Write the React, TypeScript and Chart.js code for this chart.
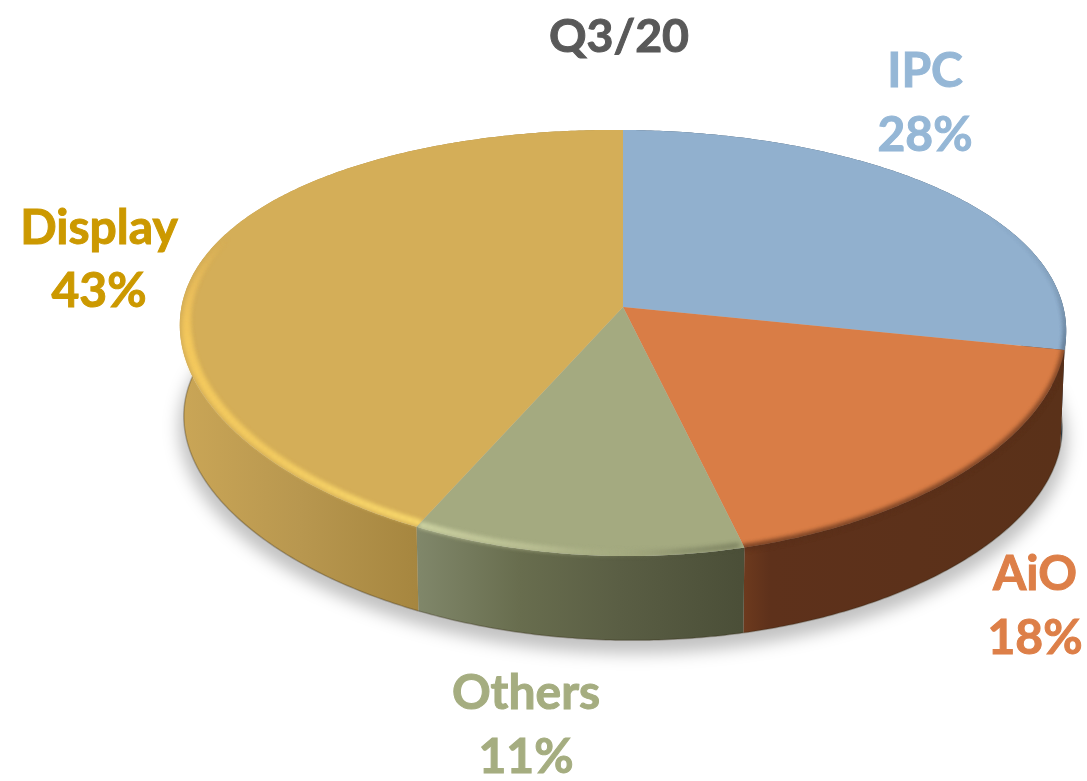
import React, { useEffect, useRef } from "react";
import { Chart, registerables } from "chart.js";

Chart.register(...registerables);

const title = "Q3/20";
const categories = ["IPC", "AiO", "Others", "Display"];
const shares = [28, 18, 11, 43];
const percentLabels = ["28%", "18%", "11%", "43%"];

const topColors = ["#91b0ce", "#d97d46", "#a4aa80", "#d4ae58"];
const textColors = ["#95b7d6", "#dd7f48", "#a5ad80", "#cc9900"];
const wallStops: [number, string][][] = [
  [[1040, "#3d5266"], [1066, "#2c3d4e"]],
  [[740, "#6f3b1e"], [770, "#5e311b"], [1060, "#5a3119"]],
  [[418, "#80876a"], [520, "#686d4e"], [620, "#5a5e44"], [740, "#4b4f38"]],
  [[186, "#c9a556"], [300, "#b8974f"], [418, "#a6863f"]],
];
// rim shading keys: angle (deg, canvas), r, g, b, alpha, width
const rimKeys: number[][][] = [
  [[-30, 50, 70, 90, 0, 2], [-5, 50, 70, 90, 0.3, 2.5], [11, 45, 65, 85, 0.8, 3]],
  [[10, 90, 48, 26, 0.8, 5], [76, 90, 48, 26, 0.8, 6]],
  [[76, 80, 85, 60, 0.45, 5], [82, 90, 95, 70, 0.35, 5], [90, 170, 175, 130, 0.2, 6], [100, 200, 205, 160, 0.6, 6], [115, 215, 220, 170, 0.9, 6]],
  [[115, 255, 224, 112, 0.95, 6], [140, 255, 214, 100, 0.8, 7], [170, 255, 210, 95, 0.9, 9], [185, 255, 205, 95, 0.6, 6], [200, 255, 205, 95, 0, 4]],
];
const rimRadius = [0.998, 1, 0.99, 0.985];
const labelSpots = [
  { x: 925, y: 72, dy: 64 },
  { x: 1035, y: 575, dy: 64 },
  { x: 526, y: 694, dy: 64 },
  { x: 99, y: 229, dy: 63 },
];

const LABEL_FONT = 'bold 48px Lato, "Open Sans", sans-serif';
const TITLE_FONT = 'bold 46.5px Lato, "Open Sans", sans-serif';
const cx = 623;
const kx = 0.1;
const ky = 0.169;
type Plane = { y0: number; R: number; B: number; t: number };
const topPlane: Plane = { y0: 307, R: 441, B: 207, t: 3 };
const basePlane: Plane = { y0: 402, R: 437, B: 198, t: 6 };
const FRONT_START = 0.1;
const FRONT_END = Math.PI - 0.1;

const project = (p: Plane, a: number, r = 1): [number, number] => {
  const u = r * Math.cos(a);
  const v = r * Math.sin(a);
  return [cx + (p.R * u) / (1 - kx * v), p.y0 + (p.B * v) / (1 - ky * v) + p.t * u];
};

const traceArc = (ctx: CanvasRenderingContext2D, p: Plane, a0: number, a1: number, move: boolean) => {
  const n = Math.max(2, Math.ceil(Math.abs(a1 - a0) / 0.01));
  for (let i = 0; i <= n; i++) {
    const [x, y] = project(p, a0 + ((a1 - a0) * i) / n);
    if (i === 0 && move) ctx.moveTo(x, y);
    else ctx.lineTo(x, y);
  }
};

const keyAt = (keys: number[][], deg: number): number[] => {
  if (deg <= keys[0][0]) return keys[0];
  for (let i = 1; i < keys.length; i++) {
    if (deg <= keys[i][0]) {
      const t = (deg - keys[i - 1][0]) / (keys[i][0] - keys[i - 1][0]);
      return keys[i].map((val, j) => keys[i - 1][j] + (val - keys[i - 1][j]) * t);
    }
  }
  return keys[keys.length - 1];
};

const piePlugin = {
  id: "extrudedPie",
  beforeDatasetsDraw(chart: any) {
    const ctx: CanvasRenderingContext2D = chart.ctx;
    const arcs = chart.getDatasetMeta(0).data;

    // soft ground shadow
    ctx.save();
    ctx.filter = "blur(8px)";
    ctx.fillStyle = "rgba(0,0,0,0.24)";
    ctx.beginPath();
    traceArc(ctx, { y0: basePlane.y0 + 11, R: basePlane.R + 5, B: basePlane.B + 2, t: basePlane.t }, 0, Math.PI * 2, true);
    ctx.closePath();
    ctx.fill();
    ctx.restore();

    // side walls
    arcs.forEach((arc: any, i: number) => {
      const g = ctx.createLinearGradient(wallStops[i][0][0], 0, wallStops[i][wallStops[i].length - 1][0], 0);
      const first = wallStops[i][0][0];
      const span = wallStops[i][wallStops[i].length - 1][0] - first;
      wallStops[i].forEach(([x, c]) => g.addColorStop((x - first) / span, c));
      ctx.beginPath();
      traceArc(ctx, topPlane, arc.startAngle, arc.endAngle, true);
      traceArc(ctx, basePlane, arc.endAngle, arc.startAngle, false);
      ctx.closePath();
      ctx.fillStyle = g;
      ctx.fill();
      // thin dark lower edge
      ctx.beginPath();
      traceArc(ctx, basePlane, arc.startAngle, arc.endAngle, true);
      ctx.strokeStyle = "rgba(50,40,20,0.3)";
      ctx.lineWidth = 1.5;
      ctx.stroke();
    });

    // top faces
    arcs.forEach((arc: any, i: number) => {
      ctx.beginPath();
      ctx.moveTo(cx, topPlane.y0);
      traceArc(ctx, topPlane, arc.startAngle, arc.endAngle, false);
      ctx.closePath();
      ctx.fillStyle = topColors[i];
      ctx.fill();
    });

    // bevel shading, allowed to bleed softly over the rim onto the slice's own wall
    arcs.forEach((arc: any, i: number) => {
      ctx.save();
      ctx.beginPath();
      ctx.moveTo(cx, topPlane.y0);
      traceArc(ctx, topPlane, arc.startAngle, arc.endAngle, false);
      ctx.closePath();
      const w0 = Math.max(arc.startAngle, FRONT_START);
      const w1 = Math.min(arc.endAngle, FRONT_END);
      if (w1 > w0) {
        // same winding as the face, so the clip is the union of both shapes
        traceArc(ctx, basePlane, w0, w1, true);
        traceArc(ctx, topPlane, w1, w0, false);
        ctx.closePath();
      }
      ctx.clip();
      ctx.filter = "blur(2px)";
      const keys = rimKeys[i];
      const a0 = keys[0][0];
      const a1 = keys[keys.length - 1][0];
      for (let d = a0; d < a1; d += 1) {
        const k = keyAt(keys, d + 0.5);
        if (k[4] <= 0.01) continue;
        const [x0, y0] = project(topPlane, (d * Math.PI) / 180, rimRadius[i]);
        const [x1, y1] = project(topPlane, ((d + 1.15) * Math.PI) / 180, rimRadius[i]);
        ctx.strokeStyle = `rgba(${k[1]},${k[2]},${k[3]},${k[4]})`;
        ctx.lineWidth = k[5];
        ctx.beginPath();
        ctx.moveTo(x0, y0);
        ctx.lineTo(x1, y1);
        ctx.stroke();
      }
      ctx.restore();
    });
    return false;
  },
  afterDraw(chart: any) {
    const ctx: CanvasRenderingContext2D = chart.ctx;
    const put = (text: string, x: number, y: number, color: string) => {
      ctx.fillStyle = color;
      ctx.strokeStyle = color;
      ctx.lineWidth = 1;
      ctx.fillText(text, x, y);
      ctx.strokeText(text, x, y);
    };
    ctx.save();
    ctx.textAlign = "center";
    ctx.textBaseline = "middle";
    ctx.font = TITLE_FONT;
    put(title, 619, 37, "#595959");
    ctx.font = LABEL_FONT;
    categories.forEach((name, i) => {
      const s = labelSpots[i];
      put(name, s.x, s.y, textColors[i]);
      put(percentLabels[i], s.x, s.y + s.dy, textColors[i]);
    });
    ctx.restore();
  },
};

export default function App() {
  const ref = useRef<HTMLCanvasElement>(null);
  useEffect(() => {
    const chart = new Chart(ref.current!, {
      type: "pie",
      data: {
        labels: categories,
        datasets: [{ data: shares, backgroundColor: topColors, borderWidth: 0 }],
      },
      options: {
        responsive: false,
        animation: false,
        rotation: 0,
        plugins: { legend: { display: false }, tooltip: { enabled: false }, title: { display: false } },
      },
      plugins: [piePlugin],
    } as any);
    return () => chart.destroy();
  }, []);
  return (
    <div style={{ position: "fixed", left: 0, top: 0, width: 1087, height: 781, background: "#fff" }}>
      <canvas ref={ref} width={1087} height={781} style={{ display: "block" }} />
    </div>
  );
}
